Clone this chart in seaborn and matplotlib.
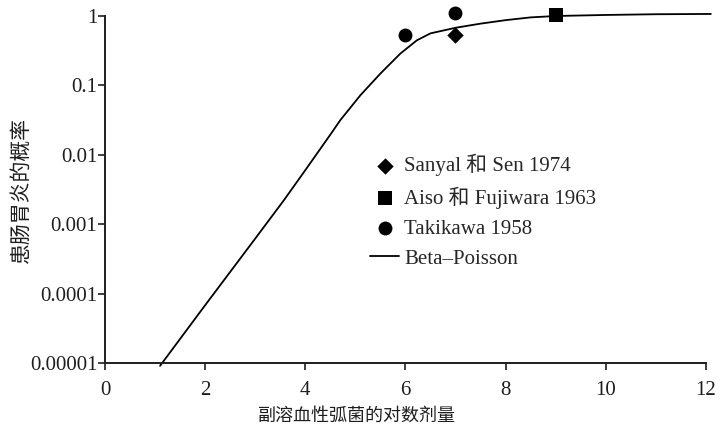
import numpy as np
import pandas as pd
import matplotlib
matplotlib.use("Agg")
import matplotlib.pyplot as plt
import seaborn as sns

# Observed illness rates (log10 dose vs. probability)
sanyal_dose = [7.0]
sanyal_prob = [0.54]
aiso_dose = [9.0]
aiso_prob = [1.03]
takikawa_dose = [6.0, 7.0]
takikawa_prob = [0.54, 1.09]

# Fitted Beta-Poisson dose-response curve
bp_dose = [1.1, 2.0, 3.0, 3.57, 4.0, 4.5, 4.7, 5.1, 5.5, 5.9, 6.23, 6.5,
           7.0, 7.5, 8.0, 8.5, 9.0, 10.0, 11.0, 12.1]
bp_prob = [9.1e-6, 6.8e-5, 6.2e-4, 2.2e-3, 6.0e-3, 0.0195, 0.0316, 0.072,
           0.148, 0.288, 0.447, 0.562, 0.676, 0.776, 0.871, 0.955, 1.0,
           1.035, 1.06, 1.07]

xticks = [0, 2, 4, 6, 8, 10, 12]
yticks = [1e-5, 1e-4, 1e-3, 1e-2, 1e-1, 1]
ytick_labels = ["0.00001", "0.0001", "0.001", "0.01", "0.1", "1"]

legend_labels = ["Sanyal 和 Sen 1974", "Aiso 和 Fujiwara 1963",
                 "Takikawa 1958", "Beta–Poisson"]

sns.set_style("ticks")
plt.rcParams["font.family"] = ["Liberation Serif", "Noto Sans CJK SC"]
plt.rcParams["axes.unicode_minus"] = False

ink = "#1e1e1e"

fig = plt.figure(figsize=(7.21, 4.30), dpi=100)
ax = fig.add_axes([0.1456, 0.1558, 0.979 - 0.1456, 0.9628 - 0.1558])

curve = pd.DataFrame({"dose": bp_dose, "prob": bp_prob})
sns.lineplot(data=curve, x="dose", y="prob", ax=ax, color="black",
             linewidth=1.3, label=legend_labels[3], clip_on=False)

sns.scatterplot(x=sanyal_dose, y=sanyal_prob, ax=ax, marker="D", s=70,
                color="black", edgecolor="black", linewidth=0,
                label=legend_labels[0], clip_on=False, zorder=5)
sns.scatterplot(x=aiso_dose, y=aiso_prob, ax=ax, marker="s", s=95,
                color="black", edgecolor="black", linewidth=0,
                label=legend_labels[1], clip_on=False, zorder=5)
sns.scatterplot(x=takikawa_dose, y=takikawa_prob, ax=ax, marker="o", s=100,
                color="black", edgecolor="black", linewidth=0,
                label=legend_labels[2], clip_on=False, zorder=5)

ax.set_yscale("log")
ax.set_xlim(0, 12)
ax.set_ylim(1e-5, 1)
ax.set_xticks(xticks)
ax.set_xticklabels([str(t) for t in xticks])
ax.set_yticks(yticks)
ax.set_yticklabels(ytick_labels)
ax.minorticks_off()
ax.tick_params(axis="both", direction="out", length=5, width=1.2,
               labelsize=15, color=ink, labelcolor=ink)
ax.tick_params(axis="x", pad=8)
ax.tick_params(axis="y", pad=0.5)

for side in ("top", "right"):
    ax.spines[side].set_visible(False)
for side in ("left", "bottom"):
    ax.spines[side].set_linewidth(1.4)
    ax.spines[side].set_color(ink)

ax.set_xlabel("副溶血性弧菌的对数剂量", fontsize=13, color=ink)
ax.set_ylabel("患肠胃炎的概率", fontsize=15, color=ink)
ax.xaxis.set_label_coords(0.419, -0.13)
ax.yaxis.set_label_coords(-0.122, 0.5)

handles, labels = ax.get_legend_handles_labels()
order = [labels.index(l) for l in legend_labels]
ax.legend([handles[i] for i in order], [labels[i] for i in order],
          loc="upper left", bbox_to_anchor=(0.441, 0.603), frameon=False,
          fontsize=15, handlelength=1.4, handletextpad=0.25,
          labelspacing=0.5, borderpad=0, borderaxespad=0)

fig.savefig("out.png", dpi=100)
